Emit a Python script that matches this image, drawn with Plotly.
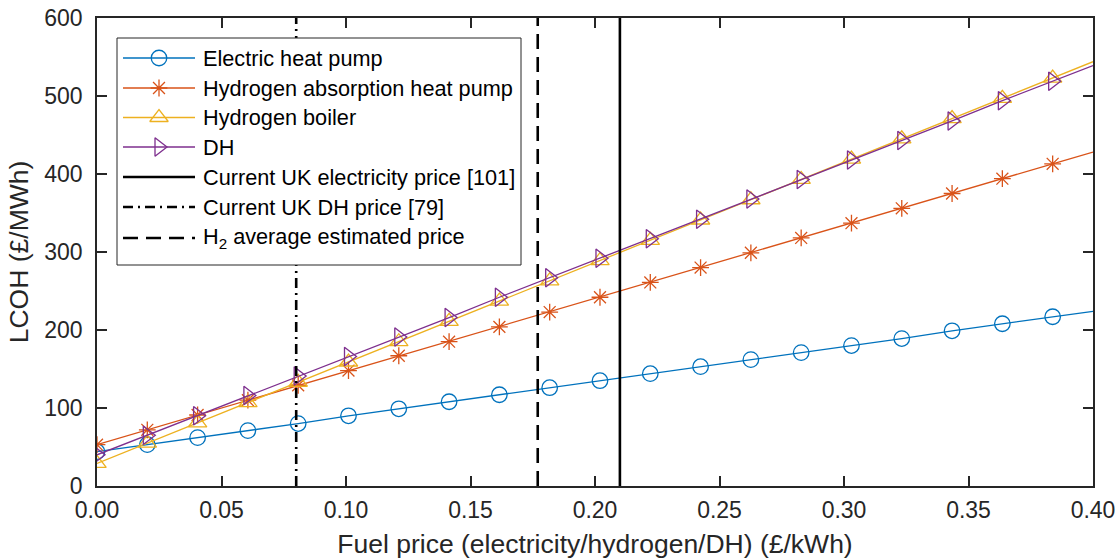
import plotly.graph_objects as go

# ---------------- data ----------------
fuel_price = [0.0, 0.0202, 0.0404, 0.0606, 0.0808, 0.1010, 0.1212, 0.1414, 0.1616, 0.1818,
              0.2020, 0.2222, 0.2424, 0.2626, 0.2828, 0.3030, 0.3232, 0.3434, 0.3636, 0.3838, 0.40]
electric_hp = [44, 53, 62, 71, 80, 90, 99, 108, 117, 126, 135, 144, 153, 162, 171, 180, 189, 199, 208, 217, 224]
hydrogen_ahp = [53, 72, 91, 110, 129, 148, 167, 185, 204, 223, 242, 261, 280, 299, 318, 337, 356, 375, 394, 413, 428]
hydrogen_boiler = [29, 55, 81, 107, 133, 159, 185, 211, 237, 263, 289, 315, 341, 367, 393, 419, 445, 471, 497, 523, 544]
district_heat = [40, 65, 90, 116, 141, 166, 191, 216, 242, 267, 292, 317, 342, 368, 393, 418, 443, 468, 494, 519, 539]

uk_electricity_price = 0.21
uk_dh_price = 0.08
h2_avg_price = 0.177

series_names = ["Electric heat pump", "Hydrogen absorption heat pump", "Hydrogen boiler", "DH"]
ref_names = ["Current UK electricity price [101]", "Current UK DH price [79]",
             "H<sub>2</sub> average estimated price"]
x_ticks = [0.0, 0.05, 0.10, 0.15, 0.20, 0.25, 0.30, 0.35, 0.40]
y_ticks = [0, 100, 200, 300, 400, 500, 600]

# ---------------- style ----------------
FONT = "Liberation Sans, Arial, Helvetica, sans-serif"
AX = "#262626"
colors = ["#0072BD", "#D95319", "#EDB120", "#7E2F8E"]
symbols = ["circle-open", "asterisk-open", "triangle-up-open", "triangle-right-open"]
msizes = [15.5, 14, 16, 16]
ref_dash = ["solid", "10px,5px,2px,5px", "15px,8px"]
W, H = 1118, 560
ML, MR, MT, MB = 97, 25, 18, 74
PW, PH = W - ML - MR, H - MT - MB

fig = go.Figure()
ys = [electric_hp, hydrogen_ahp, hydrogen_boiler, district_heat]
for name, y, c, s, ms in zip(series_names, ys, colors, symbols, msizes):
    fig.add_trace(go.Scatter(x=fuel_price, y=y, mode="lines", name=name,
                             line=dict(color=c, width=1.3), showlegend=False))
    fig.add_trace(go.Scatter(x=fuel_price[:-1], y=y[:-1], mode="markers", name=name,
                             marker=dict(symbol=s, size=ms, color=c, line=dict(color=c, width=1.3)),
                             showlegend=False))

for name, xv, d in zip(ref_names, [uk_electricity_price, uk_dh_price, h2_avg_price], ref_dash):
    fig.add_trace(go.Scatter(x=[xv, xv], y=[y_ticks[0], y_ticks[-1]], mode="lines", name=name,
                             line=dict(color="black", width=2.6, dash=d), showlegend=False))

# ---------------- custom legend (pixel-unit helper axes) ----------------
box = (117, 38, 521, 265)      # left, top, right, bottom in px
pad = 5
dom_x = [(box[0] - pad - ML) / PW, (box[2] + pad - ML) / PW]
dom_y = [(MT + PH - (box[3] + pad)) / PH, (MT + PH - (box[1] - pad)) / PH]
fig.add_trace(go.Scatter(x=[box[0], box[2], box[2], box[0], box[0]],
                         y=[box[1], box[1], box[3], box[3], box[1]],
                         mode="lines", fill="toself", fillcolor="white",
                         line=dict(color=AX, width=1), xaxis="x2", yaxis="y2",
                         showlegend=False, hoverinfo="skip"))
rows = [58, 88, 117.5, 147, 177, 207, 238]
seg = (123, 195)
mid = 159
txt_x = 201
for i in range(4):
    fig.add_trace(go.Scatter(x=[seg[0], seg[1]], y=[rows[i], rows[i]], mode="lines",
                             line=dict(color=colors[i], width=1.3), xaxis="x2", yaxis="y2",
                             showlegend=False, hoverinfo="skip"))
    fig.add_trace(go.Scatter(x=[mid], y=[rows[i]], mode="markers",
                             marker=dict(symbol=symbols[i], size=msizes[i], color=colors[i],
                                         line=dict(color=colors[i], width=1.3)),
                             xaxis="x2", yaxis="y2", showlegend=False, hoverinfo="skip"))
for j in range(3):
    r = rows[4 + j]
    fig.add_trace(go.Scatter(x=[seg[0], seg[1]], y=[r, r], mode="lines",
                             line=dict(color="black", width=2.6, dash=ref_dash[j]),
                             xaxis="x2", yaxis="y2", showlegend=False, hoverinfo="skip"))
labels = series_names + ref_names
for i, lab in enumerate(labels):
    fig.add_annotation(x=txt_x, y=rows[i], xref="x2", yref="y2", text=lab, showarrow=False,
                       xanchor="left", yanchor="middle", font=dict(family=FONT, size=21.7, color="black"))

axis_common = dict(showline=True, linecolor=AX, linewidth=1.6, mirror="ticks", ticks="inside",
                   ticklen=10, tickwidth=1.6, tickcolor=AX, showgrid=False, zeroline=False,
                   automargin=False, tickfont=dict(family=FONT, size=23, color=AX))
fig.update_layout(
    width=W, height=H,
    margin=dict(l=ML, r=MR, t=MT, b=MB, pad=0, autoexpand=False),
    paper_bgcolor="white", plot_bgcolor="rgba(0,0,0,0)",
    showlegend=False,
    xaxis=dict(range=[0, 0.40], tickvals=x_ticks, tickformat=".2f", ticklabelstandoff=3,
               title=dict(text="Fuel price (electricity/hydrogen/DH) (£/kWh)", standoff=12,
                          font=dict(family=FONT, size=26.5, color=AX)),
               **axis_common),
    yaxis=dict(range=[0, 600], tickvals=y_ticks, ticklabelstandoff=8,
               title=dict(text="LCOH (£/MWh)", standoff=8,
                          font=dict(family=FONT, size=26.5, color=AX)),
               **axis_common),
    xaxis2=dict(domain=dom_x, range=[box[0] - pad, box[2] + pad], visible=False, anchor="y2"),
    yaxis2=dict(domain=dom_y, range=[box[3] + pad, box[1] - pad], visible=False, anchor="x2"),
)

fig.write_html("out.html")
